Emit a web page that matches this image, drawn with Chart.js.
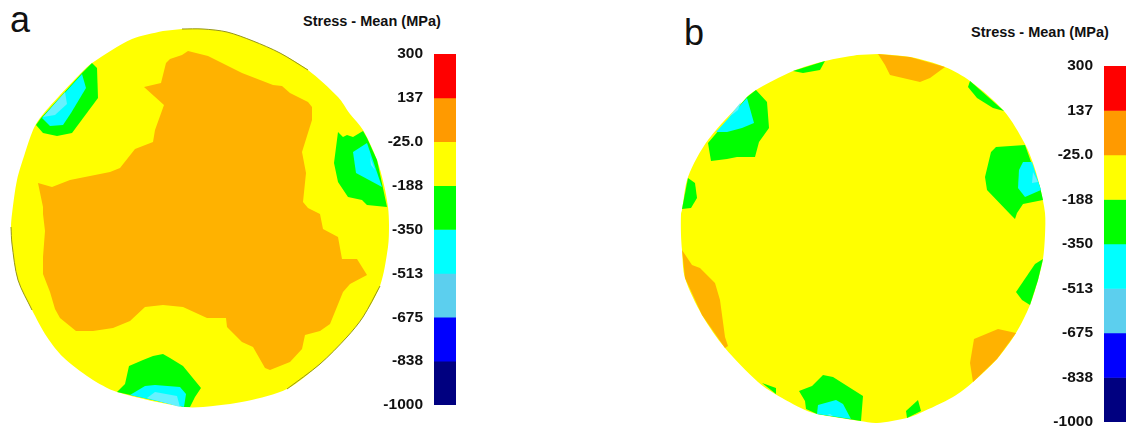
<!DOCTYPE html>
<html>
<head>
<meta charset="utf-8">
<title>Stress - Mean</title>
<script src="https://cdn.jsdelivr.net/npm/chart.js@4"></script>
<style>
html, body { margin: 0; background: #fff; width: 1127px; height: 427px; overflow: hidden; }
canvas { position: absolute; }
.txt { position: absolute; font-family: "Liberation Sans", Arial, sans-serif; color: #111; white-space: nowrap; line-height: 1; }
.panel { font-size: 36px; }
.head { font-size: 14.5px; font-weight: bold; }
</style>
</head>
<body>
<div class="txt panel" style="left:10px;top:2px">a</div>
<div class="txt panel" style="left:684px;top:15px">b</div>
<div class="txt head" style="left:303px;top:14px">Stress - Mean (MPa)</div>
<div class="txt head" style="left:971px;top:25px">Stress - Mean (MPa)</div>
<canvas id="contourA" width="400" height="427" style="left:0;top:0"></canvas>
<canvas id="contourB" width="400" height="427" style="left:670px;top:0"></canvas>
<canvas id="barA" width="86" height="400" style="left:370px;top:27px"></canvas>
<canvas id="barB" width="86" height="430" style="left:1040px;top:39px"></canvas>
<script>
// colour bar
const bandEdges = [300, 137.5, -25, -187.5, -350, -512.5, -675, -837.5, -1000];
const tickLabels = ['300', '137', '-25.0', '-188', '-350', '-513', '-675', '-838', '-1000'];
const bandColors = ['#ff0000', '#ff9a00', '#ffff00', '#00ff00', '#00ffff', '#5ccfee', '#0000ff', '#000080'];

const ORANGE = '#ffb200', YELLOW = '#ffff00', GREEN = '#00ff00', CYAN = '#00ffff', PALE = '#66f2ff';

// panel a, outlines
const diskA = [[182,29],[203,29],[227,32],[253,41],[280,53],[308,70],[338,97],[350,114],[363,130],[377,160],[384,185],[388,207],[389,225],[388,247],[380,286],[363,317],[347,337],[320,364],[287,389],[247,401],[213,406],[185,407],[117,392],[90,378],[63,357],[47,337],[32,310],[18,280],[12,244],[11,227],[12,214],[17,180],[25,153],[33,130],[40,118],[60,95],[82,72],[92,63],[132,39],[163,31]];
const coreA = [[188,51],[208,56],[242,73],[273,85],[282,86],[290,93],[308,102],[312,107],[312,120],[302,152],[306,173],[303,202],[308,208],[320,214],[323,229],[338,237],[342,259],[357,259],[367,275],[350,284],[343,292],[330,324],[320,331],[305,335],[302,349],[290,362],[270,370],[265,368],[253,347],[242,342],[227,327],[226,318],[207,318],[183,307],[163,305],[145,307],[130,321],[113,328],[93,331],[76,331],[60,318],[55,309],[50,292],[43,274],[43,257],[45,231],[43,214],[43,207],[38,183],[52,187],[70,180],[110,172],[120,168],[135,149],[153,142],[155,130],[164,105],[144,87],[161,83],[166,63],[170,59],[182,55]];
const greenUpperA = [[92,63],[97,68],[98,98],[72,133],[57,136],[43,133],[36,125],[41,118],[82,73]];
const cyanUpperA = [[82,74],[86,88],[71,113],[63,125],[50,126],[42,118]];
const paleUpperA = [[65,92],[67,104],[55,115],[43,117]];
const greenRightA = [[363,131],[367,138],[377,160],[387,207],[367,205],[362,200],[348,197],[338,182],[334,163],[338,132],[343,137],[347,135],[353,137]];
const cyanRightA = [[367,143],[382,187],[356,173],[353,152]];
const paleRightA = [[370,157],[375,170],[371,165]];
const greenLowerA = [[163,354],[170,358],[183,366],[201,388],[195,397],[190,407],[184,407],[117,392],[125,384],[129,366],[143,360],[153,356]];
const cyanLowerA = [[130,395],[145,386],[155,385],[180,387],[186,394],[184,407]];
const paleLowerA = [[147,398],[155,392],[177,396],[180,407]];
const rimTopA = [[182,29],[203,29],[227,32],[253,41],[280,53],[308,70]];
const rimLeftA = [[11,227],[12,244],[18,280],[32,310]];
const rimRightA = [[380,286],[363,317],[347,337],[320,364],[287,389]];

// panel b
const diskB = [[878,54],[910,57],[945,67],[970,81],[1004,111],[1025,144],[1034,166],[1040,187],[1045,213],[1045,235],[1043,259],[1038,280],[1030,305],[1016,333],[997,359],[973,382],[953,397],[920,413],[907,418],[877,423],[860,421],[817,414],[805,410],[775,394],[758,382],[725,348],[702,315],[685,278],[682,250],[681,235],[681,214],[682,210],[688,177],[708,140],[747,97],[756,90],[793,71],[825,61],[857,55]];
const orangeTopB = [[878,54],[910,57],[945,67],[930,78],[920,82],[890,75],[885,65]];
const orangeLeftB = [[682,250],[692,265],[700,268],[715,283],[720,300],[725,337],[728,346],[725,348],[702,315],[685,278]];
const orangeRightB = [[1016,333],[997,359],[973,382],[970,363],[974,339],[998,329]];
const greenTopB = [[793,71],[825,61],[820,70],[803,73]];
const greenNorthB = [[970,81],[1004,111],[993,108],[977,98],[968,87]];
const greenUpperB = [[756,90],[767,102],[769,128],[759,142],[755,157],[737,157],[727,159],[711,161],[708,143],[747,97]];
const cyanUpperB = [[747,98],[754,123],[742,128],[727,132],[716,132]];
const paleUpperB = [[741,102],[738,110],[728,118]];
const greenLeftB = [[688,178],[695,183],[697,198],[691,208],[682,209]];
const greenRightB = [[996,147],[1025,145],[1040,187],[1043,200],[1023,204],[1017,213],[1015,219],[1010,214],[987,190],[985,177],[991,152]];
const cyanRightB = [[1023,162],[1032,162],[1041,190],[1025,197],[1018,188],[1019,170]];
const paleRightB = [[1033,172],[1038,182],[1032,183]];
const greenEastB = [[1043,259],[1038,280],[1030,305],[1022,300],[1016,292],[1035,264]];
const greenLowerB = [[823,375],[833,377],[863,396],[861,421],[817,414],[806,409],[805,401],[799,391],[812,386]];
const cyanLowerB = [[818,405],[836,400],[843,404],[851,419],[817,414]];
const paleLowerB = [[827,415],[830,414],[833,416]];
const greenSmallB = [[918,400],[921,411],[907,418],[906,411]];
const greenEdgeB = [[762,383],[776,388],[776,394]];

function region(points, color, tension) {
    return {
        data: points.map(p => ({ x: p[0], y: p[1] })),
        showLine: true,
        pointRadius: 0,
        borderWidth: 0,
        borderColor: color,
        backgroundColor: color,
        fill: 'shape',
        tension: tension || 0
    };
}

function rim(points) {
    return {
        data: points.map(p => ({ x: p[0], y: p[1] })),
        showLine: true,
        pointRadius: 0,
        borderWidth: 1,
        borderColor: '#94941a',
        fill: false,
        tension: 0.3
    };
}

function contour(id, xMin, datasets) {
    new Chart(document.getElementById(id), {
        type: 'scatter',
        data: { datasets: datasets },
        options: {
            responsive: false,
            animation: false,
            events: [],
            layout: { padding: 0 },
            plugins: { legend: { display: false }, tooltip: { enabled: false } },
            scales: {
                x: { type: 'linear', display: false, min: xMin, max: xMin + 400 },
                y: { type: 'linear', display: false, min: 0, max: 427, reverse: true }
            }
        }
    });
}

function colorBar(id, top, bottom) {
    new Chart(document.getElementById(id), {
        type: 'bar',
        data: {
            labels: ['Stress'],
            datasets: bandColors.map((c, i) => ({
                data: [[bandEdges[i + 1], bandEdges[i]]],
                backgroundColor: c,
                barPercentage: 1,
                categoryPercentage: 1,
                grouped: false
            }))
        },
        options: {
            responsive: false,
            animation: false,
            events: [],
            layout: { padding: { top: top, bottom: bottom } },
            plugins: { legend: { display: false }, tooltip: { enabled: false } },
            scales: {
                x: { display: false },
                y: {
                    min: -1000,
                    max: 300,
                    border: { display: false },
                    grid: { display: false, drawTicks: false },
                    afterBuildTicks: axis => { axis.ticks = bandEdges.map(v => ({ value: v })); },
                    afterFit: axis => { axis.width = 64; },
                    ticks: {
                        autoSkip: false,
                        padding: 11,
                        color: '#111',
                        font: { family: '"Liberation Sans"', size: 15.5, weight: 'bold' },
                        callback: (v, i) => tickLabels[i]
                    }
                }
            }
        }
    });
}

// the first dataset is painted last, so the top layer goes first
contour('contourA', 0, [
    region(paleRightA, PALE), region(cyanRightA, CYAN), region(greenRightA, GREEN),
    region(paleUpperA, PALE), region(cyanUpperA, CYAN), region(greenUpperA, GREEN),
    region(paleLowerA, PALE), region(cyanLowerA, CYAN), region(greenLowerA, GREEN),
    region(coreA, ORANGE),
    rim(rimTopA), rim(rimLeftA), rim(rimRightA),
    region(diskA, YELLOW, 0.3)
]);

contour('contourB', 670, [
    region(paleUpperB, PALE), region(cyanUpperB, CYAN), region(greenUpperB, GREEN),
    region(paleRightB, PALE), region(cyanRightB, CYAN), region(greenRightB, GREEN),
    region(paleLowerB, PALE), region(cyanLowerB, CYAN), region(greenLowerB, GREEN),
    region(greenTopB, GREEN), region(greenNorthB, GREEN), region(greenLeftB, GREEN),
    region(greenEastB, GREEN), region(greenSmallB, GREEN), region(greenEdgeB, GREEN),
    region(orangeTopB, ORANGE), region(orangeLeftB, ORANGE), region(orangeRightB, ORANGE),
    region(diskB, YELLOW, 0.3)
]);

colorBar('barA', 27, 22);
colorBar('barB', 27, 47);
</script>
</body>
</html>
